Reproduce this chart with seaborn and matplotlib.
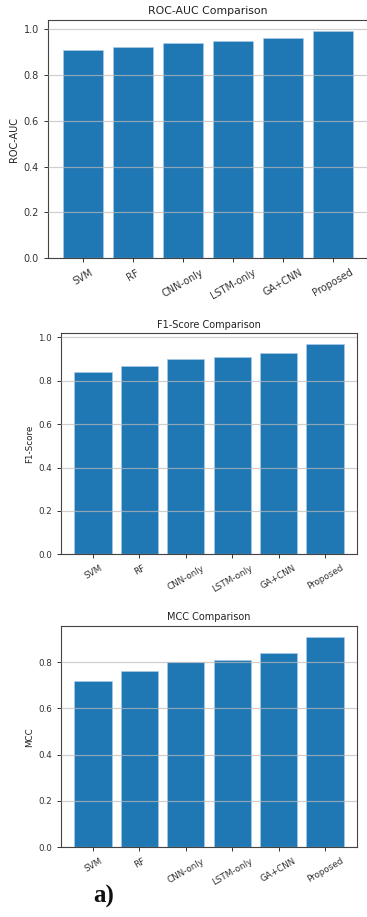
import matplotlib
matplotlib.use("Agg")
import matplotlib.pyplot as plt
import seaborn as sns
import pandas as pd

models = ["SVM", "RF", "CNN-only", "LSTM-only", "GA+CNN", "Proposed"]
roc_auc = [0.91, 0.92, 0.94, 0.95, 0.96, 0.99]
f1_score = [0.84, 0.87, 0.90, 0.91, 0.93, 0.97]
mcc = [0.72, 0.76, 0.80, 0.81, 0.84, 0.91]
yticks = [0.0, 0.2, 0.4, 0.6, 0.8, 1.0]

# title, ylabel, values, axes position, font scale
panels = [
    ("ROC-AUC Comparison", "ROC-AUC", roc_auc, [0.1308, 0.7183, 0.872, 0.2599], 1.0),
    ("F1-Score Comparison", "F1-Score", f1_score, [0.1662, 0.3955, 0.8065, 0.2410], 0.9),
    ("MCC Comparison", "MCC", mcc, [0.1662, 0.0760, 0.8065, 0.2413], 0.9),
]

fig = plt.figure(figsize=(3.67, 9.17), dpi=100)
plt.rcParams['font.family'] = ['DejaVu Sans']

for title, ylabel, vals, pos, sc in panels:
    ax = fig.add_axes(pos)
    df = pd.DataFrame({"Model": models, "Score": vals})
    sns.barplot(data=df, x="Model", y="Score", ax=ax, color="#1f77b4",
                saturation=1, width=0.8, edgecolor="#a9cbe9", linewidth=0.5)
    ax.set_xlim(-0.69, 5.69)
    ax.set_ylim(0, max(vals) * 1.05)
    ax.set_yticks([t for t in yticks if t <= max(vals) * 1.05])
    ax.yaxis.grid(True, color="#bbbbbb", alpha=0.7, linewidth=0.9)
    ax.set_axisbelow(False)
    ax.set_title(title, fontsize=7.8 * sc, color="#222222", pad=4)
    ax.set_ylabel(ylabel, fontsize=7 * sc, color="#222222", labelpad=3)
    ax.set_xlabel("")
    ax.tick_params(axis="both", labelsize=7 * sc, colors="#333333", length=3, width=0.7)
    plt.setp(ax.get_xticklabels(), rotation=30, ha="center")
    for s in ax.spines.values():
        s.set_color("#444444")
        s.set_linewidth(0.8)

fig.text(0.253, 0.016, "a)", fontsize=18, fontweight="bold",
         family=["Liberation Serif", "DejaVu Serif"], color="#111111")

fig.savefig("out.png", dpi=100)
